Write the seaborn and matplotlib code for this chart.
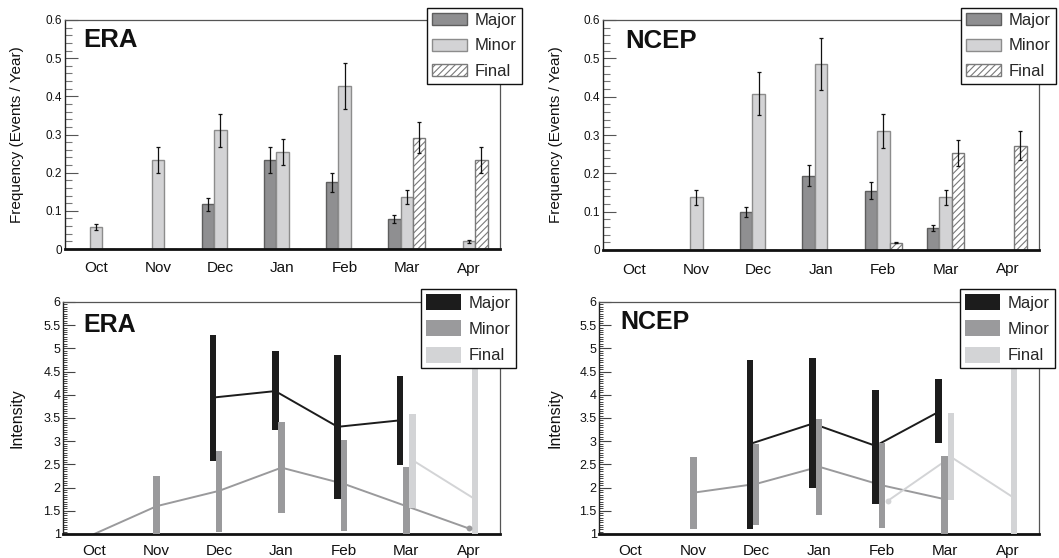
import numpy as np
import pandas as pd
import matplotlib
matplotlib.use("Agg")
import matplotlib.pyplot as plt
import seaborn as sns
from matplotlib.patches import Patch
from matplotlib.ticker import MultipleLocator, FuncFormatter

# ---------------- data ----------------
months = ["Oct", "Nov", "Dec", "Jan", "Feb", "Mar", "Apr"]
types = ["Major", "Minor", "Final"]

# Frequency (events / year) with error bars
era_freq_major = [0, 0, 0.117, 0.233, 0.175, 0.078, 0]
era_freq_minor = [0.058, 0.233, 0.311, 0.254, 0.428, 0.136, 0.020]
era_freq_final = [0, 0, 0, 0, 0, 0.292, 0.233]
era_err_major = [0, 0, 0.017, 0.033, 0.025, 0.011, 0]
era_err_minor = [0.008, 0.033, 0.044, 0.035, 0.060, 0.019, 0.003]
era_err_final = [0, 0, 0, 0, 0, 0.040, 0.033]

ncep_freq_major = [0, 0, 0.098, 0.194, 0.155, 0.058, 0]
ncep_freq_minor = [0, 0.137, 0.408, 0.485, 0.310, 0.137, 0]
ncep_freq_final = [0, 0, 0, 0, 0.019, 0.253, 0.272]
ncep_err_major = [0, 0, 0.013, 0.027, 0.022, 0.008, 0]
ncep_err_minor = [0, 0.019, 0.057, 0.068, 0.044, 0.019, 0]
ncep_err_final = [0, 0, 0, 0, 0.002, 0.035, 0.038]

nan = np.nan
# Intensity: mean, low, high
era_int_major_mean = [nan, nan, 3.94, 4.08, 3.31, 3.45, nan]
era_int_major_low = [nan, nan, 2.57, 3.24, 1.75, 2.48, nan]
era_int_major_high = [nan, nan, 5.28, 4.94, 4.85, 4.40, nan]
era_int_minor_mean = [1.00, 1.60, 1.93, 2.43, 2.08, 1.60, 1.12]
era_int_minor_low = [1.00, 1.00, 1.05, 1.46, 1.07, 1.00, 1.12]
era_int_minor_high = [1.00, 2.25, 2.79, 3.41, 3.02, 2.44, 1.12]
era_int_final_mean = [nan, nan, nan, nan, nan, 2.59, 1.75]
era_int_final_low = [nan, nan, nan, nan, nan, 1.57, 1.00]
era_int_final_high = [nan, nan, nan, nan, nan, 3.58, 5.00]

ncep_int_major_mean = [nan, nan, 2.94, 3.38, 2.90, 3.63, nan]
ncep_int_major_low = [nan, nan, 1.10, 2.00, 1.65, 2.97, nan]
ncep_int_major_high = [nan, nan, 4.74, 4.79, 4.10, 4.34, nan]
ncep_int_minor_mean = [nan, 1.89, 2.08, 2.45, 2.05, 1.75, nan]
ncep_int_minor_low = [nan, 1.10, 1.19, 1.41, 1.14, 1.00, nan]
ncep_int_minor_high = [nan, 2.66, 2.95, 3.47, 2.97, 2.68, nan]
ncep_int_final_mean = [nan, nan, nan, nan, 1.72, 2.66, 1.78]
ncep_int_final_low = [nan, nan, nan, nan, 1.72, 1.73, 1.00]
ncep_int_final_high = [nan, nan, nan, nan, 1.72, 3.60, 5.00]

# ---------------- style ----------------
sns.set_style("ticks")
plt.rcParams["font.family"] = ["Liberation Sans", "DejaVu Sans"]
plt.rcParams["hatch.linewidth"] = 0.8

C_MAJ_BAR, C_MIN_BAR = "#8f8f91", "#d3d3d5"
E_MAJ_BAR, E_MIN_BAR, E_FIN_BAR = "#5e5e5e", "#8c8c8c", "#7a7a7a"
C_MAJ, C_MIN, C_FIN = "#1c1c1c", "#9a9a9c", "#d3d4d6"

fig = plt.figure(figsize=(10.59, 5.58), dpi=100)
W, H = 1059.0, 558.0


def px_axes(l, r, t, b):
    return fig.add_axes([l / W, 1 - b / H, (r - l) / W, (b - t) / H])


ax_tl = px_axes(65, 500, 20, 249)
ax_tr = px_axes(603, 1039, 20, 250)
ax_bl = px_axes(63, 500, 302, 534)
ax_br = px_axes(599, 1039, 302, 534)


def style_frame(ax, xpad):
    for s in ["top", "right"]:
        ax.spines[s].set_visible(True)
        ax.spines[s].set_color("#555555")
        ax.spines[s].set_linewidth(0.9)
    ax.spines["left"].set_color("#222222")
    ax.spines["left"].set_linewidth(1.0)
    ax.spines["bottom"].set_color("#111111")
    ax.spines["bottom"].set_linewidth(2.0)
    ax.tick_params(axis="x", length=0, pad=xpad, labelsize=11,
                   colors="#111111")
    ax.set_xlim(-0.5, 6.5)


def place_legend(ax, handles, x_px, y_px, hh, ls):
    leg = ax.legend(handles=handles, labels=types, loc="upper left",
                    bbox_to_anchor=(x_px / W, 1 - y_px / H),
                    bbox_transform=fig.transFigure, borderaxespad=0,
                    frameon=True, fancybox=False, framealpha=1,
                    edgecolor="#111111", fontsize=12, handlelength=2.1,
                    handleheight=hh, handletextpad=0.45, labelspacing=ls,
                    borderpad=0.3)
    leg.get_frame().set_linewidth(1.0)
    leg.set_zorder(20)
    return leg


def freq_panel(ax, maj, mino, fin, emaj, emin, efin, title, tx, ty, ylx, lx):
    df = pd.DataFrame({
        "month": months * 3,
        "type": np.repeat(types, len(months)),
        "freq": maj + mino + fin,
    })
    sns.barplot(data=df, x="month", y="freq", hue="type", order=months,
                hue_order=types, palette=[C_MAJ_BAR, C_MIN_BAR, "white"],
                width=0.6, dodge=True, errorbar=None, saturation=1,
                linewidth=1.0, legend=False, ax=ax)
    edges = [E_MAJ_BAR, E_MIN_BAR, E_FIN_BAR]
    for k, (cont, errs) in enumerate(zip(ax.containers, [emaj, emin, efin])):
        for p, e in zip(cont.patches, errs):
            p.set_edgecolor(edges[k])
            if k == 2:
                p.set_hatch("/////")
            if e > 0:
                ax.errorbar(p.get_x() + p.get_width() / 2, p.get_height(),
                            yerr=e, fmt="none", ecolor="#111111",
                            elinewidth=0.9, capsize=1.6, capthick=0.9,
                            zorder=5)
    style_frame(ax, 9)
    ax.set_ylim(0, 0.6)
    ax.yaxis.set_major_locator(MultipleLocator(0.1))
    ax.yaxis.set_minor_locator(MultipleLocator(0.02))
    ax.yaxis.set_major_formatter(FuncFormatter(lambda v, p: f"{v:g}"))
    ax.tick_params(axis="y", which="major", direction="in", length=9.5,
                   width=0.8, color="#555555", labelsize=8.5, pad=2,
                   labelcolor="#111111")
    ax.tick_params(axis="y", which="minor", direction="in", length=5,
                   width=0.8, color="#777777")
    ax.set_xlabel("")
    ax.set_ylabel("Frequency (Events / Year)", fontsize=11, color="#111111")
    ax.yaxis.set_label_coords(ylx, 0.5)
    ax.text(tx, ty, title, transform=ax.transAxes, fontsize=18.5,
            fontweight="bold", va="baseline", ha="left", color="#111111")
    handles = [Patch(facecolor=C_MAJ_BAR, edgecolor=E_MAJ_BAR),
               Patch(facecolor=C_MIN_BAR, edgecolor=E_MIN_BAR),
               Patch(facecolor="white", edgecolor=E_FIN_BAR, hatch="/////")]
    place_legend(ax, handles, lx, 8, 0.75, 0.63)


def intensity_panel(ax, series, title, tx, ty, ylx, lx):
    offsets = [-0.1, 0.0, 0.1]
    colors = [C_MAJ, C_MIN, C_FIN]
    xs = np.arange(len(months))
    # mean lines (drawn below the range bars)
    for (mean, low, high), off, col in zip(series, offsets, colors):
        mean = np.asarray(mean, float)
        m = ~np.isnan(mean)
        sns.lineplot(x=xs[m] + off, y=mean[m], color=col, linewidth=1.4,
                     ax=ax, zorder=2, sort=False)
    # range bars
    for (mean, low, high), off, col in zip(series, offsets, colors):
        low = np.asarray(low, float)
        high = np.asarray(high, float)
        mean = np.asarray(mean, float)
        m = ~np.isnan(low) & (high > low)
        ax.bar(xs[m] + off, (high - low)[m], bottom=low[m], width=0.105,
               color=col, linewidth=0, zorder=3)
        d = ~np.isnan(low) & (high == low) & (mean > 1.0)
        if d.any():
            sns.scatterplot(x=xs[d] + off, y=mean[d], color=col, s=18,
                            linewidth=0, ax=ax, zorder=4)
    style_frame(ax, 7.3)
    ax.set_xticks(xs)
    ax.set_xticklabels(months)
    ax.set_ylim(1, 6)
    ax.yaxis.set_major_locator(MultipleLocator(0.5))
    ax.yaxis.set_minor_locator(MultipleLocator(0.05))
    ax.yaxis.set_major_formatter(FuncFormatter(lambda v, p: f"{v:g}"))
    ax.tick_params(axis="y", which="major", direction="in", length=8.5,
                   width=0.8, color="#444444", labelsize=9, pad=1.7,
                   labelcolor="#111111")
    ax.tick_params(axis="y", which="minor", direction="in", length=3.2,
                   width=0.7, color="#444444")
    ax.set_xlabel("")
    ax.set_ylabel("Intensity", fontsize=11.5, color="#111111")
    ax.yaxis.set_label_coords(ylx, 0.5)
    ax.text(tx, ty, title, transform=ax.transAxes, fontsize=18,
            fontweight="bold", va="baseline", ha="left", color="#111111")
    handles = [Patch(facecolor=C_MAJ, edgecolor="none"),
               Patch(facecolor=C_MIN, edgecolor="none"),
               Patch(facecolor=C_FIN, edgecolor="none")]
    place_legend(ax, handles, lx, 289, 1.1, 0.58)


freq_panel(ax_tl, era_freq_major, era_freq_minor, era_freq_final,
           era_err_major, era_err_minor, era_err_final,
           "ERA", 0.041, 0.883, -0.094, 427)
freq_panel(ax_tr, ncep_freq_major, ncep_freq_minor, ncep_freq_final,
           ncep_err_major, ncep_err_minor, ncep_err_final,
           "NCEP", 0.05, 0.878, -0.092, 961)

intensity_panel(ax_bl,
                [(era_int_major_mean, era_int_major_low, era_int_major_high),
                 (era_int_minor_mean, era_int_minor_low, era_int_minor_high),
                 (era_int_final_mean, era_int_final_low, era_int_final_high)],
                "ERA", 0.046, 0.872, -0.087, 421)
intensity_panel(ax_br,
                [(ncep_int_major_mean, ncep_int_major_low, ncep_int_major_high),
                 (ncep_int_minor_mean, ncep_int_minor_low, ncep_int_minor_high),
                 (ncep_int_final_mean, ncep_int_final_low, ncep_int_final_high)],
                "NCEP", 0.049, 0.882, -0.082, 960)

fig.savefig("out.png", dpi=100)
